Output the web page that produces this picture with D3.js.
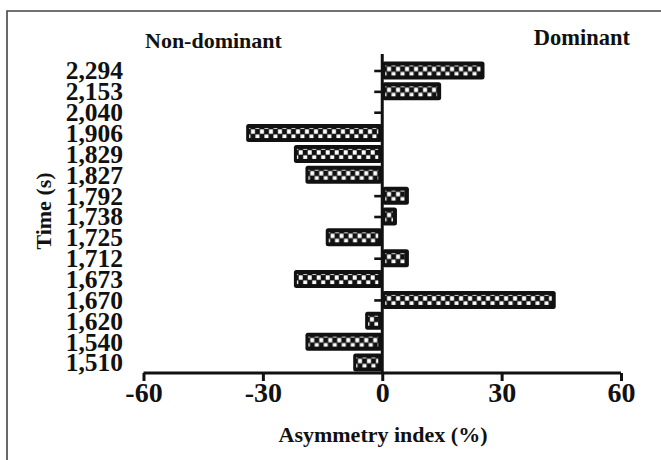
<!DOCTYPE html>
<html>
<head>
<meta charset="utf-8">
<script src="https://cdn.jsdelivr.net/npm/d3@7"></script>
<style>
  html, body { margin: 0; padding: 0; background: #fff; }
  svg { display: block; }
  text { font-family: "Liberation Serif", "Times New Roman", serif; font-weight: bold; fill: #111; }
</style>
</head>
<body>
<div id="chart"></div>
<script>
// ---- data ----
const categories = ["2,294","2,153","2,040","1,906","1,829","1,827","1,792","1,738","1,725","1,712","1,673","1,670","1,620","1,540","1,510"];
const values     = [25.7, 14.8, 0, -34.2, -22.2, -19.3, 6.7, 3.7, -14.2, 6.7, -22.2, 43.6, -4.3, -19.3, -7.3];
const xTicks     = [-60, -30, 0, 30, 60];
const xTitle     = "Asymmetry index (%)";
const yTitle     = "Time (s)";
const leftLabel  = "Non-dominant";
const rightLabel = "Dominant";

const W = 661, H = 460;
const svg = d3.select("#chart").append("svg").attr("width", W).attr("height", H);

// checker pattern
const defs = svg.append("defs");
const pat = defs.append("pattern").attr("id", "checker")
  .attr("patternUnits", "userSpaceOnUse").attr("width", 9).attr("height", 10);
pat.append("rect").attr("width", 9).attr("height", 10).attr("fill", "#111");
pat.append("rect").attr("x", 0.3).attr("y", 0.4).attr("width", 4).attr("height", 4.4).attr("fill", "#fff");
pat.append("rect").attr("x", 4.8).attr("y", 5.3).attr("width", 4).attr("height", 4.4).attr("fill", "#fff");

// outer frame (top + left)
svg.append("path").attr("d", `M7,${H} L7,11 L${W},11`)
  .attr("fill", "none").attr("stroke", "#444").attr("stroke-width", 1.6);

const x = d3.scaleLinear().domain([-60, 60]).range([143.5, 621]);
const y = d3.scalePoint().domain(categories).range([70.5, 362.5]);
const barH = 18;
const inset = 4;

// y-axis ticks (left)
const yAxis = d3.axisLeft(y).tickSize(8).tickFormat("");
const gy = svg.append("g").attr("transform", `translate(${x(0)},0)`).call(yAxis);
gy.select(".domain").remove();
gy.selectAll(".tick line").attr("stroke", "#111").attr("stroke-width", 2.6);

// bars
const bars = svg.append("g").selectAll("g.bar")
  .data(categories.map((c, i) => ({c, v: values[i]})))
  .join("g").attr("class", "bar")
  .attr("transform", d => `translate(${Math.min(x(0), x(d.v))},${y(d.c) - barH / 2})`);
bars.each(function(d) {
  const w = Math.abs(x(d.v) - x(0));
  const g = d3.select(this);
  if (w < 0.5) return;
  g.append("rect").attr("width", w).attr("height", barH).attr("rx", 2.5).attr("fill", "#111");
  if (w > inset * 2) {
    g.append("rect").attr("x", inset - 1).attr("y", inset).attr("width", w - inset * 2 + 1).attr("height", barH - inset * 2)
      .attr("fill", "url(#checker)");
  }
});

// y axis line
svg.append("line").attr("x1", x(0)).attr("x2", x(0)).attr("y1", 54).attr("y2", 374)
  .attr("stroke", "#111").attr("stroke-width", 3);

// x axis
const xAxis = d3.axisBottom(x).tickValues(xTicks).tickSize(8).tickPadding(3).tickSizeOuter(0).tickFormat(d3.format("d"));
const gx = svg.append("g").attr("transform", "translate(0,373)").call(xAxis);
gx.select(".domain").attr("stroke", "#111").attr("stroke-width", 3)
  .attr("d", `M${x(-60)},0H${x(60)}`);
gx.selectAll(".tick line").attr("stroke", "#111").attr("stroke-width", 3);
gx.selectAll(".tick text").attr("font-size", 28).attr("font-family", null).attr("fill", "#111")
  .attr("dy", null).attr("y", 29)
  .text(d => d < 0 ? "-" + Math.abs(d) : d);

// y category labels
svg.append("g").selectAll("text").data(categories).join("text")
  .attr("x", 123).attr("y", d => y(d)).attr("dy", "0.35em")
  .attr("text-anchor", "end").attr("font-size", 25.5).text(d => d);

// titles
svg.append("text").attr("x", 383).attr("y", 442).attr("text-anchor", "middle")
  .attr("font-size", 22).text(xTitle);
svg.append("text").attr("transform", "translate(51,211) rotate(-90)").attr("text-anchor", "middle")
  .attr("font-size", 22).text(yTitle);
svg.append("text").attr("x", 145).attr("y", 48).attr("font-size", 22).text(leftLabel);
svg.append("text").attr("x", 630).attr("y", 45).attr("text-anchor", "end").attr("font-size", 22.5).text(rightLabel);
</script>
</body>
</html>
